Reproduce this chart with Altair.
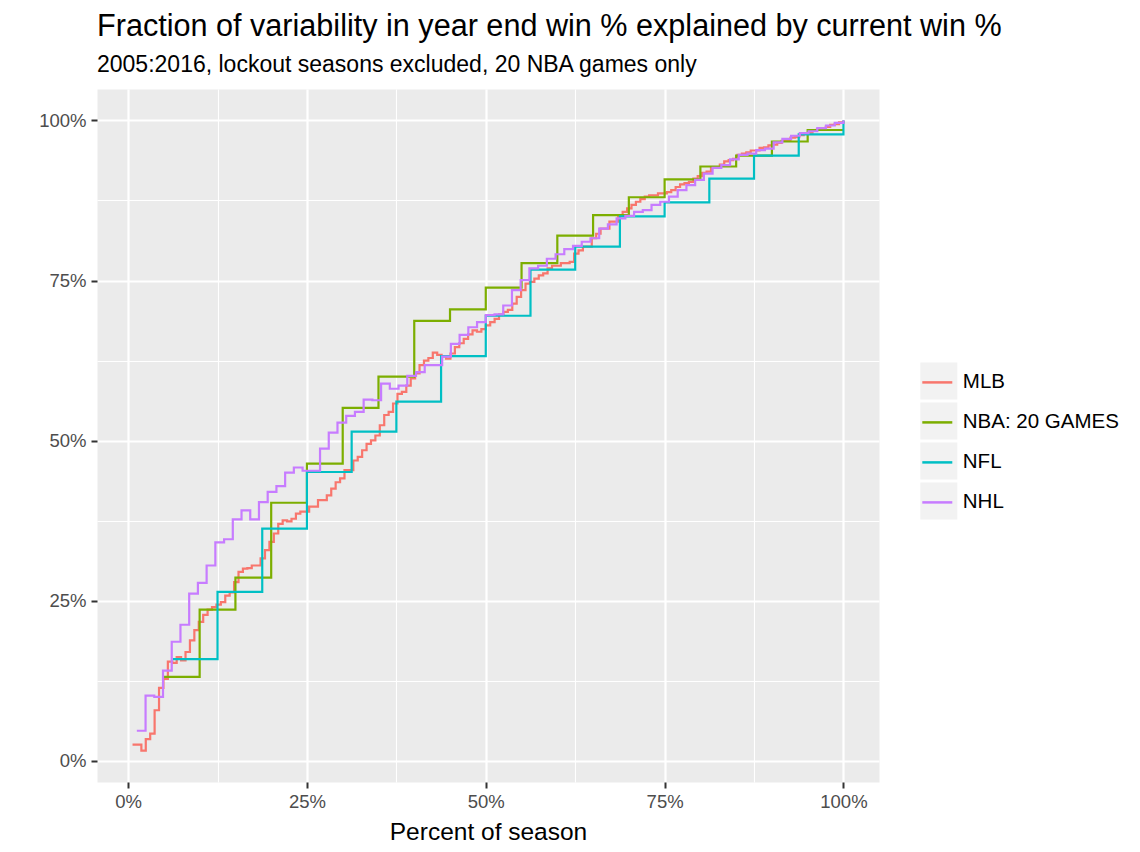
import altair as alt
import pandas as pd

leagues = ["MLB", "NBA: 20 GAMES", "NFL", "NHL"]
colors = ["#F8766D", "#7CAE00", "#00BFC4", "#C77CFF"]

mlb = [0.0255, 0.0255, 0.016, 0.034, 0.0425, 0.079, 0.114, 0.128, 0.155, 0.153,
       0.162, 0.157, 0.170, 0.188, 0.204, 0.217, 0.228, 0.236,
       0.240, 0.244, 0.248, 0.258, 0.263, 0.279, 0.295, 0.300, 0.301, 0.305,
       0.305, 0.316, 0.329, 0.342, 0.355, 0.370, 0.3755, 0.374, 0.378, 0.386,
       0.389, 0.389, 0.397, 0.397, 0.407, 0.407, 0.4145, 0.425, 0.435, 0.441,
       0.454, 0.454, 0.469, 0.4745, 0.485, 0.495, 0.5005, 0.508, 0.524, 0.540,
       0.545, 0.558, 0.573, 0.576, 0.586, 0.597, 0.605, 0.618, 0.625, 0.629,
       0.6375, 0.634, 0.632, 0.628, 0.636, 0.646, 0.652, 0.659, 0.666, 0.672,
       0.670, 0.674, 0.680,
       0.685, 0.690, 0.697, 0.701, 0.704, 0.714, 0.7245, 0.735, 0.745, 0.748,
       0.753, 0.758, 0.761, 0.769, 0.773, 0.773, 0.777, 0.777, 0.779, 0.792,
       0.797, 0.803, 0.803, 0.816, 0.823, 0.831, 0.831, 0.842, 0.842, 0.852,
       0.857, 0.8625, 0.868, 0.873, 0.877, 0.881, 0.883, 0.883, 0.886, 0.886,
       0.888, 0.891, 0.896, 0.900, 0.902, 0.904, 0.909,
       0.913, 0.918, 0.920, 0.926, 0.927, 0.931, 0.936, 0.938, 0.940, 0.946,
       0.948, 0.950, 0.953, 0.953, 0.957, 0.958, 0.961, 0.962, 0.965, 0.968,
       0.969, 0.973, 0.974, 0.977, 0.980, 0.981, 0.984, 0.986, 0.987, 0.990,
       0.993, 0.994, 0.997, 1.000]

nba = [0.131, 0.236, 0.286, 0.403, 0.464, 0.551, 0.600, 0.687, 0.705, 0.739,
       0.777, 0.820, 0.852, 0.880, 0.908, 0.928, 0.945, 0.967, 0.985, 0.985]

nfl = [0.159, 0.264, 0.3625, 0.451, 0.514, 0.561, 0.632, 0.695, 0.767, 0.803,
       0.850, 0.872, 0.909, 0.945, 0.978, 1.000]

nhl = [0.047, 0.102, 0.100, 0.141, 0.186, 0.2125, 0.261, 0.278, 0.305, 0.341,
       0.346, 0.377, 0.391, 0.377, 0.404, 0.420, 0.429, 0.450, 0.458, 0.453,
       0.453, 0.4875, 0.5125, 0.528, 0.5385, 0.545, 0.564, 0.563, 0.589, 0.581,
       0.586, 0.601, 0.607, 0.618, 0.618, 0.631, 0.651, 0.665, 0.677, 0.685,
       0.696, 0.697, 0.711, 0.735, 0.7505, 0.769, 0.773, 0.784, 0.791, 0.799,
       0.804, 0.8105, 0.816, 0.831, 0.8375, 0.847, 0.851, 0.857, 0.860, 0.868,
       0.873, 0.881, 0.891, 0.899, 0.907, 0.917, 0.926, 0.930, 0.939, 0.946,
       0.948, 0.9536, 0.956, 0.9656, 0.971, 0.976, 0.980, 0.983, 0.988, 0.992,
       0.996, 1.000]

tick_values = [0, 0.125, 0.25, 0.375, 0.5, 0.625, 0.75, 0.875, 1.0]

rows = []
for name, vals in zip(leagues, [mlb, nba, nfl, nhl]):
    n = len(vals)
    for i, v in enumerate(vals):
        rows.append({"league": name, "key": name, "x": (i + 1) / n, "y": v})
df = pd.DataFrame(rows)

FONT = "Liberation Sans"
major = "datum.value * 4 == round(datum.value * 4)"


def make_axis(title, **kw):
    return alt.Axis(
        values=tick_values,
        labelExpr=f"{major} ? format(datum.value, '.0%') : ''",
        title=title,
        grid=True,
        gridColor="white",
        gridWidth={"condition": {"test": major, "value": 2.2}, "value": 1.1},
        tickColor="#333333",
        tickOpacity={"condition": {"test": major, "value": 1}, "value": 0},
        tickSize=6,
        tickWidth=2,
        domain=False,
        labelFont=FONT,
        labelFontSize=18.5,
        labelColor="#4D4D4D",
        labelOverlap=False,
        labelFlush=False,
        titleFont=FONT,
        titleFontSize=24.5,
        titleFontWeight="normal",
        titleColor="black",
        **kw,
    )


xaxis = make_axis("Percent of season", labelPadding=4, titlePadding=10)
yaxis = make_axis(None, labelPadding=5)

xscale = alt.Scale(domain=[-0.0435, 1.0497], nice=False, zero=False)
yscale = alt.Scale(domain=[-0.033, 1.049], nice=False, zero=False)

base = alt.Chart(df)

# grey key boxes behind the legend symbols (domain taken from the data so
# that this legend is not merged with the colour legend)
keys = base.mark_square(size=0).encode(
    x=alt.X("x:Q", scale=xscale, axis=xaxis),
    y=alt.Y("y:Q", scale=yscale, axis=yaxis),
    fill=alt.Fill(
        "key:N",
        scale=alt.Scale(range=["#F2F2F2"] * 4),
        legend=alt.Legend(
            title=None, orient="none", legendX=823.3, legendY=273.4,
            symbolType="square", symbolSize=1369, symbolStrokeWidth=0,
            symbolOpacity=1, rowPadding=3, padding=0,
            labelExpr="''", labelFont=FONT, labelFontSize=19.5,
            zindex=0,
        ),
    ),
)

lines = base.mark_line(interpolate="step-after", strokeWidth=2.2).encode(
    x=alt.X("x:Q", scale=xscale, axis=xaxis),
    y=alt.Y("y:Q", scale=yscale, axis=yaxis),
    color=alt.Color(
        "league:N",
        scale=alt.Scale(domain=leagues, range=colors),
        legend=alt.Legend(
            title=None, orient="none", legendX=823.8, legendY=276.9,
            symbolType="stroke", symbolSize=900, symbolStrokeWidth=2.5,
            rowPadding=13, padding=0, labelOffset=9,
            labelFont=FONT, labelFontSize=20.5, labelColor="black",
            zindex=1,
        ),
    ),
)

chart = (
    alt.layer(keys, lines)
    .properties(
        width=782,
        height=693,
        autosize=alt.AutoSizeParams(type="none"),
        padding={"left": 89, "top": 81, "right": 240, "bottom": 62},
        title=alt.TitleParams(
            text="Fraction of variability in year end win % explained by current win %",
            subtitle="2005:2016, lockout seasons excluded, 20 NBA games only",
            anchor="start",
            frame="group",
            font=FONT,
            fontSize=30.6,
            fontWeight="normal",
            color="black",
            subtitleFont=FONT,
            subtitleFontSize=23,
            subtitleColor="black",
            subtitlePadding=11,
            offset=12,
        ),
    )
    .configure_view(fill="#EBEBEB", stroke="transparent")
)

chart.save("out.html", embed_options={"renderer": "svg", "actions": False})
